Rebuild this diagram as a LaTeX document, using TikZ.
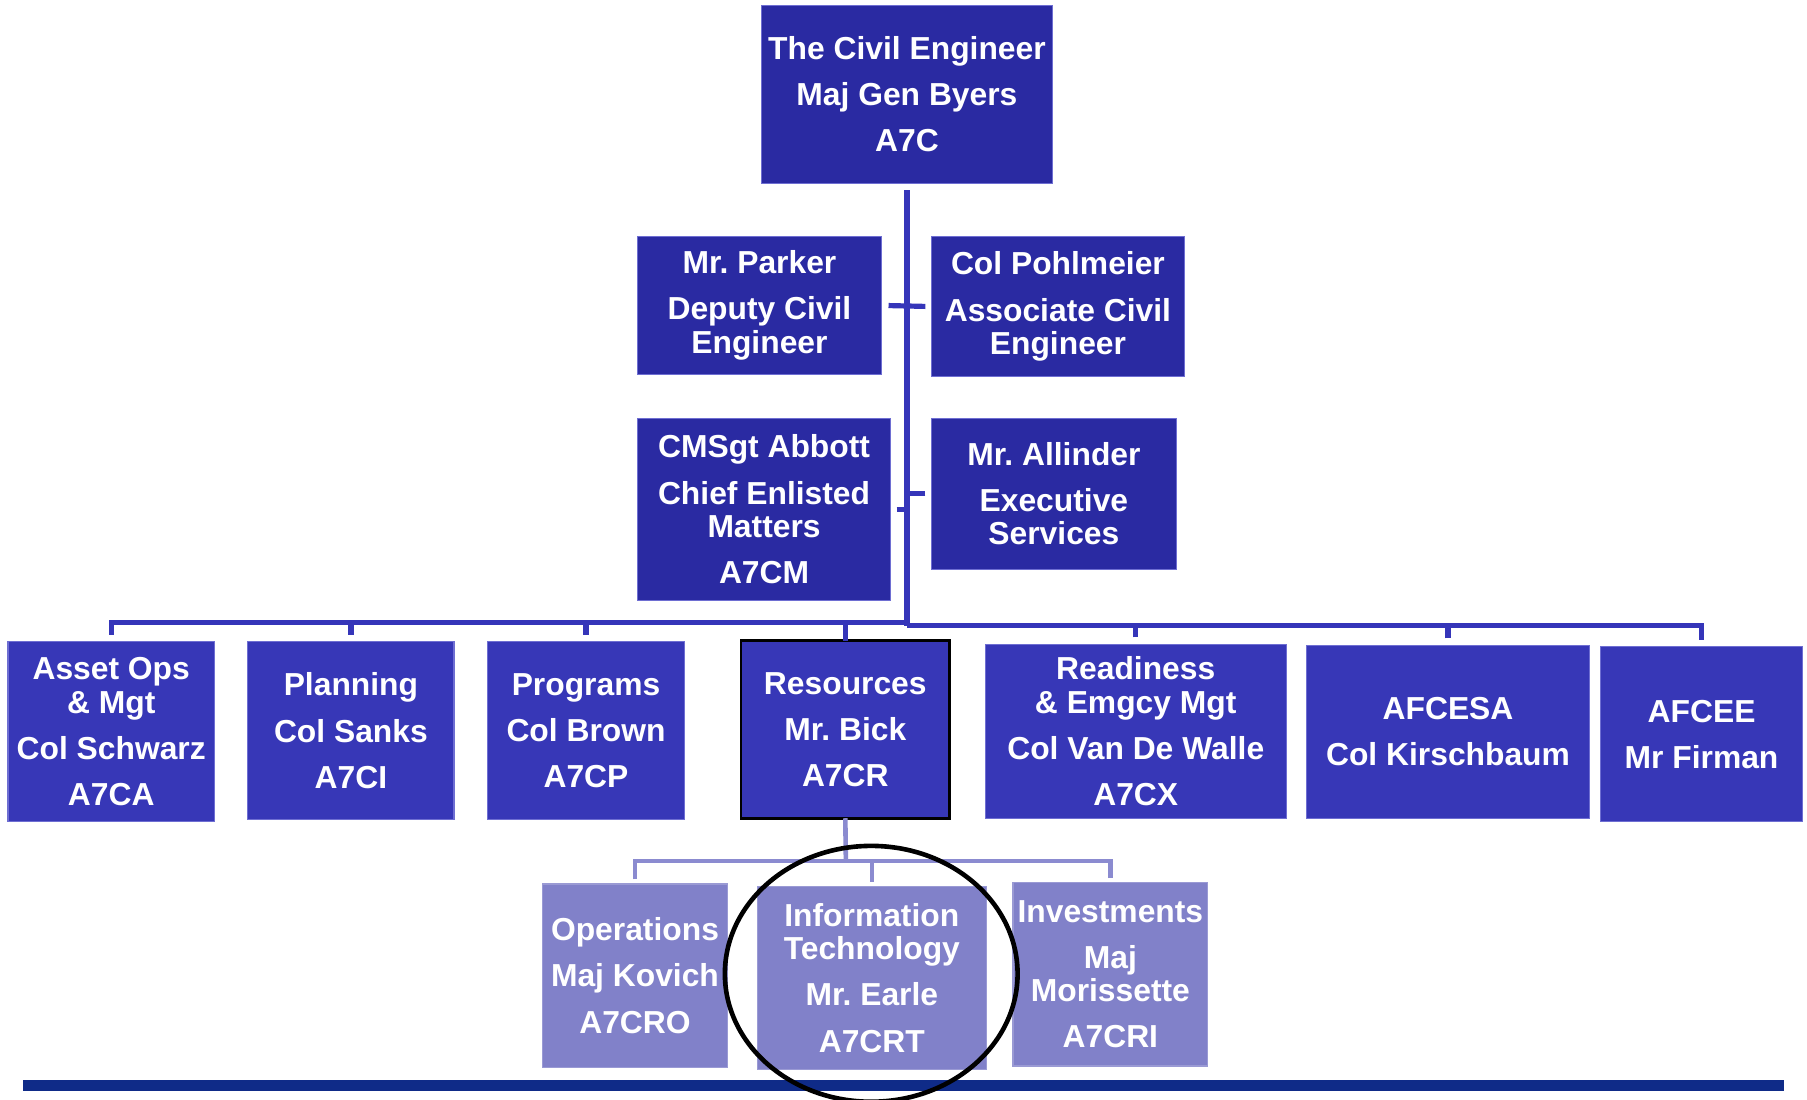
\documentclass[tikz,border=0pt]{standalone}
\usepackage{fontspec}
\setmainfont{Liberation Sans}
\usetikzlibrary{shapes.geometric}
\definecolor{staffBlue}{HTML}{2A2AA2}
\definecolor{dirBlue}{HTML}{3737B7}
\definecolor{subBlue}{HTML}{8181C9}
\definecolor{edgeBlue}{HTML}{6E6ED2}
\definecolor{lineBlue}{HTML}{3535B9}
\definecolor{subLine}{HTML}{8B8BD0}
\definecolor{barBlue}{HTML}{0F2B88}
\frenchspacing
\begin{document}
\begin{tikzpicture}[x=1pt, y=-1pt, boxStyle/.style={rectangle, draw=edgeBlue, line width=1, text=white, font=\fontsize{27.6}{29}\selectfont\bfseries, align=center, inner sep=0, outer sep=0}, staffStyle/.style={boxStyle, fill=staffBlue}, dirStyle/.style={boxStyle, fill=dirBlue}, subStyle/.style={boxStyle, fill=subBlue, draw=subBlue!80!white}, lineStyle/.style={draw=lineBlue, line width=4.5}, subLineStyle/.style={draw=subLine, line width=4}, ringStyle/.style={ellipse, draw=black, line width=4, inner sep=0}]
                    \useasboundingbox (0,0) rectangle (1568,954);

                    \node[staffStyle, minimum width=252, minimum height=154] (root)  at (787, 82) {The Civil Engineer\\[11pt]Maj Gen Byers\\[11pt]A7C};

                    \node[staffStyle, minimum width=212, minimum height=120] (dep_0) at (659, 265) {Mr. Parker\\[11pt]Deputy Civil\\Engineer};
                    \node[staffStyle, minimum width=220, minimum height=122] (dep_1) at (918, 266) {Col Pohlmeier\\[11pt]Associate Civil\\Engineer};

                    \node[staffStyle, minimum width=220, minimum height=158] (stf_0) at (663, 442) {CMSgt Abbott\\[11pt]Chief Enlisted\\Matters\\[11pt]A7CM};
                    \node[staffStyle, minimum width=213, minimum height=131] (stf_1) at (914.5, 428.5) {Mr. Allinder\\[11pt]Executive\\Services};

                    \node[dirStyle, minimum width=179, minimum height=156] (dir_0) at (  96.5, 635) {Asset Ops\\\& Mgt\\[11pt]Col Schwarz\\[11pt]A7CA};
                    \node[dirStyle, minimum width=179, minimum height=154] (dir_1) at ( 304.5, 634) {Planning\\[11pt]Col Sanks\\[11pt]A7CI};
                    \node[dirStyle, minimum width=171, minimum height=154] (dir_2) at ( 508.5, 634) {Programs\\[11pt]Col Brown\\[11pt]A7CP};
                    \node[dirStyle, minimum width=181, minimum height=154, draw=black, line width=2.5] (dir_3) at ( 733.5, 633) {Resources\\[11pt]Mr. Bick\\[11pt]A7CR};
                    \node[dirStyle, minimum width=261, minimum height=151] (dir_4) at ( 985.5, 634.5) {Readiness\\\& Emgcy Mgt\\[11pt]Col Van De Walle\\[11pt]A7CX};
                    \node[dirStyle, minimum width=245, minimum height=150] (dir_5) at (1256.5, 635) {AFCESA\\[11pt]Col Kirschbaum};
                    \node[dirStyle, minimum width=175, minimum height=152] (dir_6) at (1476.5, 637) {AFCEE\\[11pt]Mr Firman};

                    \node[subStyle, minimum width=160, minimum height=159] (sub_0) at (551, 846.5) {Operations\\[11pt]Maj Kovich\\[11pt]A7CRO};
                    \node[subStyle, minimum width=199, minimum height=159] (sub_1) at (756.5, 848.5) {Information\\Technology\\[11pt]Mr. Earle\\[11pt]A7CRT};
                    \node[subStyle, minimum width=169, minimum height=159] (sub_2) at (963.5, 845.5) {Investments\\[11pt]Maj\\Morissette\\[11pt]A7CRI};

                    \coordinate (hubL) at (787, 540);
                    \coordinate (hubR) at (787, 543);
                    \coordinate (subHub) at (734, 747);

                    \draw[lineStyle, shorten <=6] (root.south) -- (hubR);
                    \draw[lineStyle, shorten <=6, shorten >=5] (dep_0.east) -- (dep_1.west);
                    \draw[lineStyle, shorten <=5] (stf_0.east) -- (stf_0.east -| hubL);
                    \draw[lineStyle, shorten <=5] (stf_1.west) -- (stf_1.west -| hubL);

                    \draw[lineStyle, shorten <=6] (dir_0.north) |- (hubL);
                    \draw[lineStyle, shorten <=6] (dir_1.north) |- (hubL);
                    \draw[lineStyle, shorten <=6] (dir_2.north) |- (hubL);
                    \draw[lineStyle] (dir_3.north) |- (hubL);
                    \draw[lineStyle, shorten <=6] (dir_4.north) |- (hubR);
                    \draw[lineStyle, shorten <=6] (dir_5.north) |- (hubR);
                    \draw[lineStyle, shorten <=6] (dir_6.north) |- (hubR);

                    \draw[subLineStyle] (dir_3.south) -- (subHub);
                    \draw[subLineStyle, shorten <=4] (sub_0.north) |- (subHub);
                    \draw[subLineStyle, shorten <=4] (sub_1.north) |- (subHub);
                    \draw[subLineStyle, shorten <=4] (sub_2.north) |- (subHub);

                    \draw[barBlue, line width=9] (20, 942) -- (1548, 942);

                    \node[ringStyle, minimum width=254, minimum height=222] (focus) at (756, 845) {};
                \end{tikzpicture}
\end{document}
